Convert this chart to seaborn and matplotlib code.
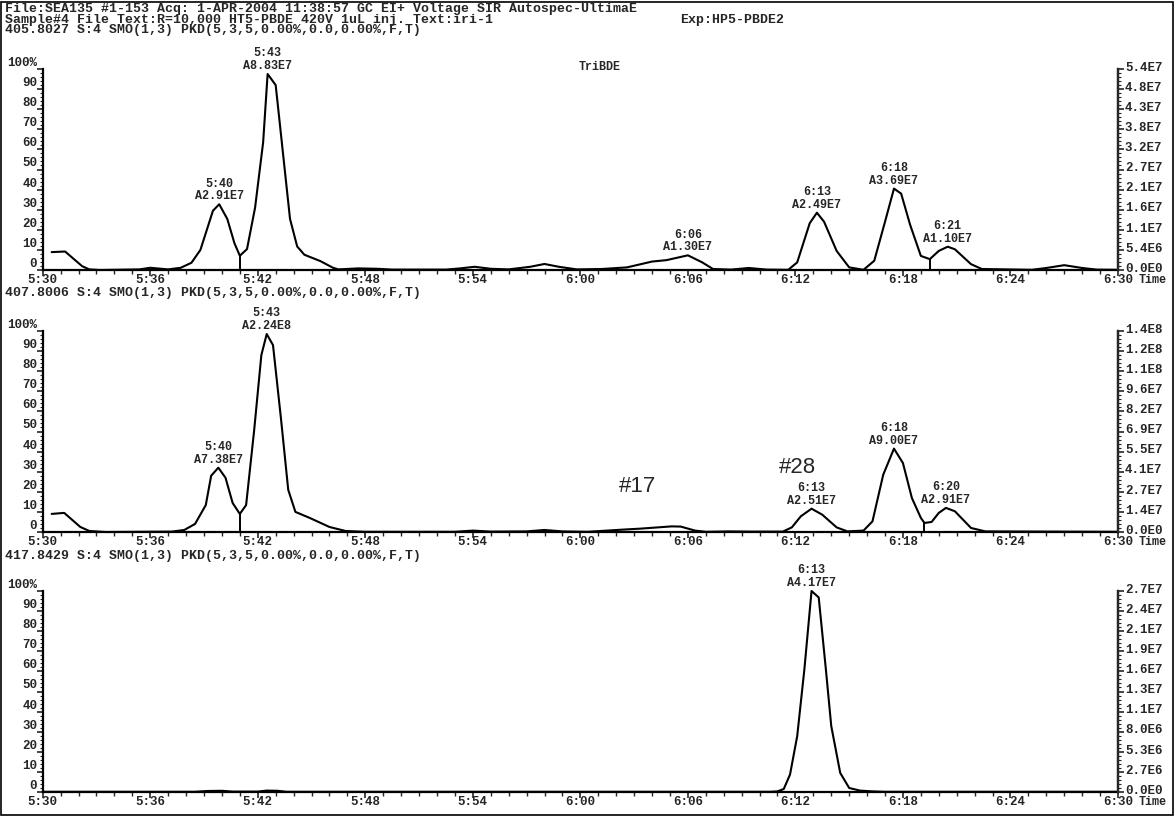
import numpy as np
import pandas as pd
import matplotlib
matplotlib.use("Agg")
import matplotlib.pyplot as plt
import matplotlib.transforms as mtransforms
import seaborn as sns
from matplotlib.ticker import MultipleLocator, FuncFormatter
from matplotlib.patches import Rectangle

# ---------------- data (seconds after 5:30, percent of panel max) ----------------
top_t = [0.5, 1.25, 2.2, 2.6, 3.2, 5.4, 6.0, 7.0, 7.7, 8.3, 8.8, 9.5, 9.85, 10.3, 10.7, 11.0,
         11.4, 11.85, 12.3, 12.55, 13.0, 13.4, 13.8, 14.2, 14.6, 15.5, 16.2, 16.5, 17.6, 18.7,
         19.5, 22.5, 23.3, 24.1, 25.0, 26.0, 27.2, 28.0, 28.8, 29.8, 31.2, 32.6, 34.0, 34.8,
         36.0, 36.8, 37.4, 38.4, 39.4, 40.4, 41.6, 42.1, 42.8, 43.2, 43.6, 44.3, 45.0, 45.8,
         46.4, 47.0, 47.5, 47.9, 48.4, 49.0, 49.5, 50.0, 50.5, 50.9, 51.8, 52.4, 55.2, 56.0,
         57.0, 58.0, 58.8, 60.0]
top_pct = [8.9, 9.2, 1.9, 0.3, 0.0, 0.3, 1.1, 0.3, 1.1, 3.6, 10.0, 29.5, 32.7, 25.4, 13.3, 7.1,
           10.4, 31.0, 63.5, 97.5, 92.0, 58.7, 25.4, 11.7, 7.6, 4.4, 1.1, 0.3, 0.8, 0.6,
           0.2, 0.2, 0.8, 1.6, 0.6, 0.3, 1.6, 3.0, 1.6, 0.3, 0.5, 1.3, 4.2, 4.9,
           7.3, 3.8, 0.5, 0.2, 1.0, 0.2, 0.1, 3.8, 23.3, 28.5, 24.0, 9.5, 1.3, 0.1,
           4.6, 24.0, 40.5, 38.0, 22.5, 7.0, 5.4, 9.5, 11.6, 10.3, 2.9, 0.5, 0.1, 1.0,
           2.4, 1.0, 0.2, 0.1]

mid_t = [0.5, 1.2, 2.1, 2.6, 3.5, 7.2, 7.9, 8.5, 9.1, 9.4, 9.8, 10.2, 10.6, 11.0, 11.35, 11.8,
         12.2, 12.5, 12.85, 13.3, 13.7, 14.1, 14.9, 16.0, 16.9, 18.0, 23.0, 24.0, 25.0, 27.0,
         28.0, 29.0, 30.4, 32.4, 33.4, 35.1, 35.6, 36.4, 37.0, 38.3, 39.4, 41.3, 41.8, 42.3,
         42.9, 43.5, 44.3, 44.9, 45.8, 46.3, 46.9, 47.5, 48.0, 48.5, 49.0, 49.2, 49.6, 50.0,
         50.4, 50.9, 51.8, 52.6, 60.0]
mid_pct = [9.0, 9.5, 2.5, 0.5, 0.0, 0.2, 1.0, 4.0, 13.4, 28.0, 32.0, 27.0, 14.4, 9.0, 13.4, 50.7,
           88.0, 98.5, 93.0, 56.0, 21.0, 10.0, 7.0, 2.5, 0.5, 0.1, 0.1, 0.7, 0.2, 0.3,
           1.0, 0.3, 0.1, 1.2, 1.7, 2.8, 2.7, 0.7, 0.1, 0.3, 0.2, 0.2, 2.3, 7.8,
           11.6, 8.6, 2.3, 0.3, 0.7, 5.3, 28.5, 41.5, 34.3, 16.9, 7.0, 4.5, 5.0, 9.5,
           12.0, 10.3, 2.0, 0.3, 0.1]

bot_t = [0.0, 8.5, 9.2, 10.0, 10.6, 12.0, 12.5, 13.1, 13.6, 40.6, 41.0, 41.35, 41.7, 42.1,
         42.5, 42.9, 43.3, 43.7, 44.0, 44.5, 45.0, 45.6, 46.3, 47.0, 60.0]
bot_pct = [0.1, 0.1, 0.5, 0.6, 0.2, 0.2, 0.7, 0.6, 0.1, 0.1, 0.3, 1.5, 8.7, 27.8,
           61.0, 100.0, 96.8, 61.0, 32.8, 9.5, 2.0, 0.7, 0.3, 0.1, 0.1]

# peak labels
top_peak_t = [9.85, 12.55, 36.0, 43.2, 47.5, 50.5]
top_peak_time = ["5:40", "5:43", "6:06", "6:13", "6:18", "6:21"]
top_peak_area = ["A2.91E7", "A8.83E7", "A1.30E7", "A2.49E7", "A3.69E7", "A1.10E7"]
mid_peak_t = [9.8, 12.5, 42.9, 47.5, 50.4]
mid_peak_time = ["5:40", "5:43", "6:13", "6:18", "6:20"]
mid_peak_area = ["A7.38E7", "A2.24E8", "A2.51E7", "A9.00E7", "A2.91E7"]
bot_peak_t = [42.9]
bot_peak_time = ["6:13"]
bot_peak_area = ["A4.17E7"]

# valley drop lines
top_valleys = [11.0, 49.5]
mid_valleys = [11.0, 49.2]

# axis labels
left_labels = ["0", "10", "20", "30", "40", "50", "60", "70", "80", "90", "100%"]
top_right = ["0.0E0", "5.4E6", "1.1E7", "1.6E7", "2.1E7", "2.7E7", "3.2E7", "3.8E7", "4.3E7", "4.8E7", "5.4E7"]
mid_right = ["0.0E0", "1.4E7", "2.7E7", "4.1E7", "5.5E7", "6.9E7", "8.2E7", "9.6E7", "1.1E8", "1.2E8", "1.4E8"]
bot_right = ["0.0E0", "2.7E6", "5.3E6", "8.0E6", "1.1E7", "1.3E7", "1.6E7", "1.9E7", "2.1E7", "2.4E7", "2.7E7"]

header1 = "File:SEA135 #1-153 Acq: 1-APR-2004 11:38:57 GC EI+ Voltage SIR Autospec-UltimaE"
header2 = "Sample#4 File Text:R=10,000 HT5-PBDE 420V 1uL inj. Text:iri-1"
header_exp = "Exp:HP5-PBDE2"
panel_titles = ["405.8027 S:4 SMO(1,3) PKD(5,3,5,0.00%,0.0,0.00%,F,T)",
                "407.8006 S:4 SMO(1,3) PKD(5,3,5,0.00%,0.0,0.00%,F,T)",
                "417.8429 S:4 SMO(1,3) PKD(5,3,5,0.00%,0.0,0.00%,F,T)"]

START = 330  # 5:30 in seconds

# ---------------- style ----------------
sns.set_theme(style="white")
plt.rcParams['font.family'] = ['Liberation Mono', 'DejaVu Sans Mono']
plt.rcParams['font.weight'] = 'bold'
MONO = dict(family=['Liberation Mono', 'DejaVu Sans Mono'], weight='bold')

W, H = 1175, 816
fig = plt.figure(figsize=(W / 100, H / 100), dpi=100)
fig.patch.set_facecolor('white')

left_px, right_px = 42.7, 1118
zero_px = [270, 532, 792]
title_px = [30, 293, 556]
hgt_px = 201

def fmt_time(v, pos):
    v = int(round(v))
    return f"{v // 60}:{v % 60:02d}"

panels = [
    (top_t, top_pct, top_peak_t, top_peak_time, top_peak_area, top_valleys, top_right),
    (mid_t, mid_pct, mid_peak_t, mid_peak_time, mid_peak_area, mid_valleys, mid_right),
    (bot_t, bot_pct, bot_peak_t, bot_peak_time, bot_peak_area, [], bot_right),
]

up_shift = mtransforms.ScaledTranslation(0, 2 / 72, fig.dpi_scale_trans)

axes = []
for i, (tt, pp, pk_t, pk_time, pk_area, valleys, rlabels) in enumerate(panels):
    ax = fig.add_axes([left_px / W, (H - zero_px[i]) / H, (right_px - left_px) / W, hgt_px / H])
    axes.append(ax)
    df = pd.DataFrame({"t": np.array(tt) + START, "pct": pp})
    sns.lineplot(data=df, x="t", y="pct", ax=ax, color="black", lw=1.5, estimator=None, clip_on=False)
    ax.set_xlim(START, START + 60)
    ax.set_ylim(0, 100)
    ax.set_xlabel("")
    ax.set_ylabel("")
    ax.set_facecolor("white")
    for side in ["left", "bottom", "right"]:
        ax.spines[side].set_visible(True)
        ax.spines[side].set_linewidth(1.6)
        ax.spines[side].set_color("black")
    ax.spines["top"].set_visible(False)

    # x axis
    ax.xaxis.set_major_locator(MultipleLocator(6))
    ax.xaxis.set_minor_locator(MultipleLocator(1))
    ax.xaxis.set_major_formatter(FuncFormatter(fmt_time))
    ax.tick_params(axis="x", which="major", direction="out", length=4, width=1.2, pad=-1,
                   labelsize=9, bottom=True)
    ax.tick_params(axis="x", which="minor", direction="out", length=3, width=1.0, bottom=True)
    for lab in ax.get_xticklabels():
        lab.set_fontweight("bold")

    # left y axis
    ax.set_yticks(np.arange(0, 101, 10))
    ax.set_yticklabels(left_labels)
    ax.yaxis.set_minor_locator(MultipleLocator(2))
    ax.tick_params(axis="y", which="major", direction="out", length=4, width=1.2, pad=0,
                   labelsize=9, left=True)
    ax.tick_params(axis="y", which="minor", direction="out", length=2, width=0.8, left=True)
    for lab in ax.get_yticklabels():
        lab.set_fontweight("bold")
        lab.set_verticalalignment("bottom")

    # right y axis
    axr = ax.twinx()
    axr.set_ylim(0, 100)
    axr.set_yticks(np.arange(0, 101, 10))
    axr.set_yticklabels(rlabels)
    axr.yaxis.set_minor_locator(MultipleLocator(2))
    axr.tick_params(axis="y", which="major", direction="out", length=4, width=1.2, pad=1,
                    labelsize=9, right=True)
    axr.tick_params(axis="y", which="minor", direction="out", length=2, width=0.8, right=True)
    for s in axr.spines.values():
        s.set_visible(False)
    axr.spines["right"].set_visible(True)
    axr.spines["right"].set_linewidth(1.6)
    for lab in axr.get_yticklabels():
        lab.set_fontweight("bold")
        lab.set_transform(lab.get_transform() + up_shift)
    axr.grid(False)
    ax.grid(False)

    # valley drop lines
    for v in valleys:
        yv = np.interp(v, tt, pp)
        ax.vlines(v + START, 0, yv, color="black", lw=1.4)

    # peak annotations
    for ptime, tlab, alab in zip(pk_t, pk_time, pk_area):
        yv = np.interp(ptime, tt, pp)
        ax.annotate(alab, xy=(ptime + START, yv), xytext=(0, 1.5), textcoords="offset points",
                    ha="center", va="bottom", fontsize=8.5, annotation_clip=False, **MONO)
        ax.annotate(tlab, xy=(ptime + START, yv), xytext=(0, 10.5), textcoords="offset points",
                    ha="center", va="bottom", fontsize=8.5, annotation_clip=False, **MONO)

    # "Time" label
    ax.annotate("Time", xy=(1.0, 0), xycoords="axes fraction", xytext=(15, -3),
                textcoords="offset points", ha="left", va="top", fontsize=8.5, **MONO)

    # panel title
    fig.text(5 / W, 1 - title_px[i] / H, panel_titles[i],
             ha="left", va="center", fontsize=9.5, **MONO)

# headers
fig.text(5 / W, 1 - 9 / H, header1, ha="left", va="center", fontsize=9.5, **MONO)
fig.text(5 / W, 1 - 20 / H, header2, ha="left", va="center", fontsize=9.5, **MONO)
fig.text(680 / W, 1 - 20 / H, header_exp, ha="left", va="center", fontsize=9.5, **MONO)

# extra labels
axes[0].text(START + 31.1, 101, "TriBDE", ha="center", va="center", fontsize=8.5, **MONO)
axes[1].text(START + 33.2, 22.5, "#17", ha="center", va="center", fontsize=16,
             family="Liberation Sans", weight="normal")
axes[1].text(START + 42.1, 32.3, "#28", ha="center", va="center", fontsize=16,
             family="Liberation Sans", weight="normal")

# outer frame
fig.add_artist(Rectangle((1 / W, 1 / H), (W - 3) / W, (H - 3) / H, transform=fig.transFigure,
                         fill=False, edgecolor="black", lw=1.2))

fig.savefig("out.png", dpi=100)
